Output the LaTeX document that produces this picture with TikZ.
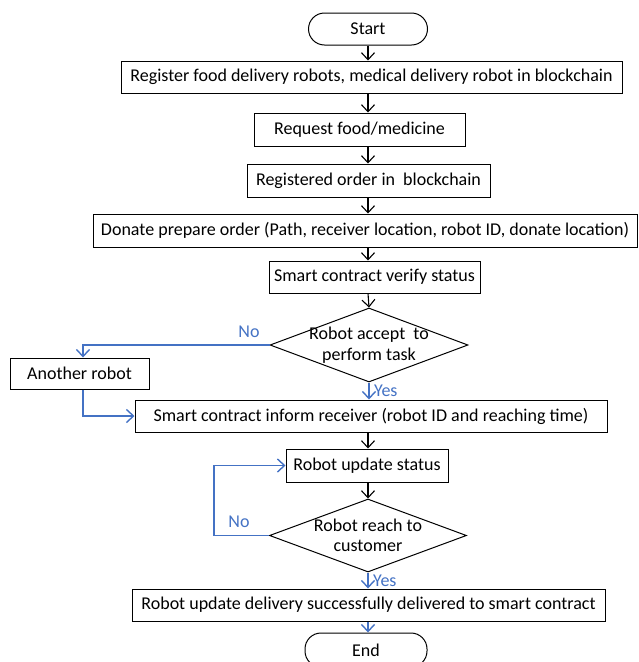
\documentclass[tikz,border=0pt]{standalone}
\usepackage{fontspec}
\setmainfont{Carlito}
\usetikzlibrary{arrows.meta,shapes.geometric,calc}
\definecolor{flowblue}{HTML}{4472C4}
\begin{document}
\begin{tikzpicture}[x=1pt,y=-1pt,
  every node/.style={font=\fontsize{18}{20.5}\selectfont},
  box/.style={draw, line width=1pt, rectangle, inner sep=0pt, anchor=center},
  term/.style={draw, line width=1pt, rectangle, rounded corners=16pt, inner sep=0pt},
  dec/.style={draw, line width=1pt, diamond, inner sep=0pt, align=center},
  arr/.style={line width=1.1pt, -{Straight Barb[length=7pt,width=13pt]}},
  barr/.style={arr, line width=1.4pt, draw=flowblue},
  lbl/.style={text=flowblue}]
\clip (0,0) rectangle (638,662);
\useasboundingbox (0,0) rectangle (638,662);
\node[term, minimum width=119pt, minimum height=32pt] (start) at (368,29) {Start};
\node[box, minimum width=501pt, minimum height=32pt] (reg) at (371.5,77) {Register food delivery robots, medical delivery robot in blockchain};
\node[box, minimum width=211pt, minimum height=33pt] (req) at (359.5,129.5) {Request food/medicine};
\node[box, minimum width=243pt, minimum height=33pt] (rord) at (368.5,180.5) {Registered order in\ \ blockchain};
\node[box, minimum width=544pt, minimum height=33pt] (donate) at (365,230.5) {Donate prepare order (Path, receiver location, robot ID, donate location)};
\node[box, minimum width=211pt, minimum height=32pt] (verify) at (374.5,277) {Smart contract verify status};
\node[dec, minimum width=198pt, minimum height=74pt] (d1) at (369,345) {};
\node[align=center] (d1t) at (369,345) {Robot accept\ \ to\\perform task};
\node[box, minimum width=139pt, minimum height=31pt] (another) at (79.5,373.5) {Another robot};
\node[box, minimum width=472pt, minimum height=32pt] (inform) at (371,416) {Smart contract inform receiver (robot ID and reaching time)};
\node[box, minimum width=162pt, minimum height=33pt] (status) at (367,465.5) {Robot update status};
\node[dec, minimum width=197pt, minimum height=73pt] (d2) at (368,535.5) {};
\node[align=center] (d2t) at (368,535.5) {Robot reach to\\customer};
\node[box, minimum width=473pt, minimum height=32pt] (final) at (368.5,605) {Robot update delivery successfully delivered to smart contract};
\node[term, minimum width=122pt, minimum height=34pt] (end) at (366,650) {End};
\coordinate (col) at (368,0);
\draw[arr] (start.south -| col) -- (reg.north -| col);
\draw[arr] (reg.south -| col) -- (req.north -| col);
\draw[arr] (req.south -| col) -- (rord.north -| col);
\draw[arr] (rord.south -| col) -- (donate.north -| col);
\draw[arr] (donate.south -| col) -- (verify.north -| col);
\draw[arr] (verify.south -| col) -- (d1.north);
\draw[barr] (d1.south) -- (inform.north -| d1.south) node[lbl, anchor=west, pos=0.5, xshift=1pt] (yes1) {Yes};
\draw[barr] (d1.west) -- ([xshift=3.5pt]another.north |- d1.west) -- ([xshift=3.5pt]another.north);
\node[lbl] (no1) at (249,332) {No};
\draw[barr] ([xshift=3.5pt]another.south) |- (inform.west);
\draw[arr] (inform.south -| col) -- (status.north -| col);
\draw[arr] (status.south -| col) -- (d2.north);
\draw[barr] (d2.west) -- ++(-55,0) |- (status.west);
\node[lbl] (no2) at (239,522) {No};
\draw[barr] (d2.south) -- (final.north -| d2.south) node[lbl, anchor=west, pos=0.5, xshift=1pt] (yes2) {Yes};
\draw[barr] (final.south -| col) -- (end.north -| col);
\end{tikzpicture}
\end{document}
